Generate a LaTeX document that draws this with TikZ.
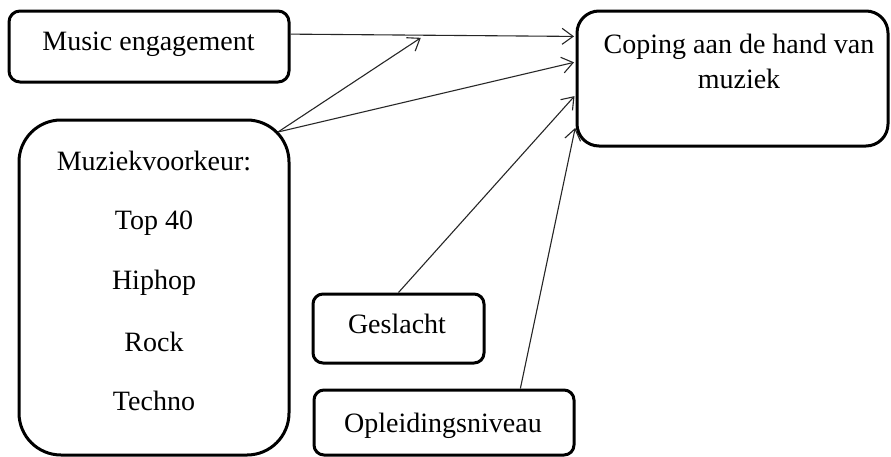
\documentclass[tikz,border=0pt]{standalone}
\usepackage{fontspec}
\setmainfont{Liberation Serif}
\usetikzlibrary{arrows.meta}
\begin{document}
\begin{tikzpicture}[x=1pt,y=-1pt,
  box/.style={draw=black, line width=3pt, inner sep=0pt},
  lbl/.style={anchor=base, inner sep=0pt, font=\fontsize{28}{34}\selectfont},
  conn/.style={draw=black!85, line width=1.1pt, shorten >=1.5pt,
    -{Straight Barb[length=11pt,width=16pt,line width=1.1pt]}}]
\useasboundingbox (0,0) rectangle (891,456);
% boxes
\node[box, rounded corners=11pt, minimum width=280pt, minimum height=71pt] (me) at (149,46.5) {};
\node[box, rounded corners=22pt, minimum width=311pt, minimum height=135pt] (cop) at (732.5,78.5) {};
\node[box, rounded corners=42pt, minimum width=270pt, minimum height=335pt] (mz) at (154,287.5) {};
\node[box, rounded corners=10pt, minimum width=171pt, minimum height=69pt] (gs) at (398.5,328.5) {};
\node[box, rounded corners=10pt, minimum width=260pt, minimum height=65pt] (op) at (444,422.5) {};
% labels
\node[lbl] (meT) at (148.5,50) {Music engagement};
\node[lbl] (copT1) at (739,53) {Coping aan de hand van};
\node[lbl] (copT2) at (739,88) {muziek};
\node[lbl] (mzT1) at (154,170) {Muziekvoorkeur:};
\node[lbl] (mzT2) at (154,229) {Top 40};
\node[lbl] (mzT3) at (154,289) {Hiphop};
\node[lbl] (mzT4) at (154,351) {Rock};
\node[lbl] (mzT5) at (154,410) {Techno};
\node[lbl] (gsT) at (397,333) {Geslacht};
\node[lbl] (opT) at (443,432) {Opleidingsniveau};
% connectors
\coordinate (mzc) at (278,132);
\coordinate (mid) at (422,37);
\draw[conn] (me.5.5) -- (cop.165);
\draw[conn] (mzc) -- (mid);
\draw[conn] (mzc) -- (cop.174);
\draw[conn] (gs.north) -- (cop.186);
\draw[conn] (op.24.6) -- (cop.197);
\end{tikzpicture}
\end{document}
